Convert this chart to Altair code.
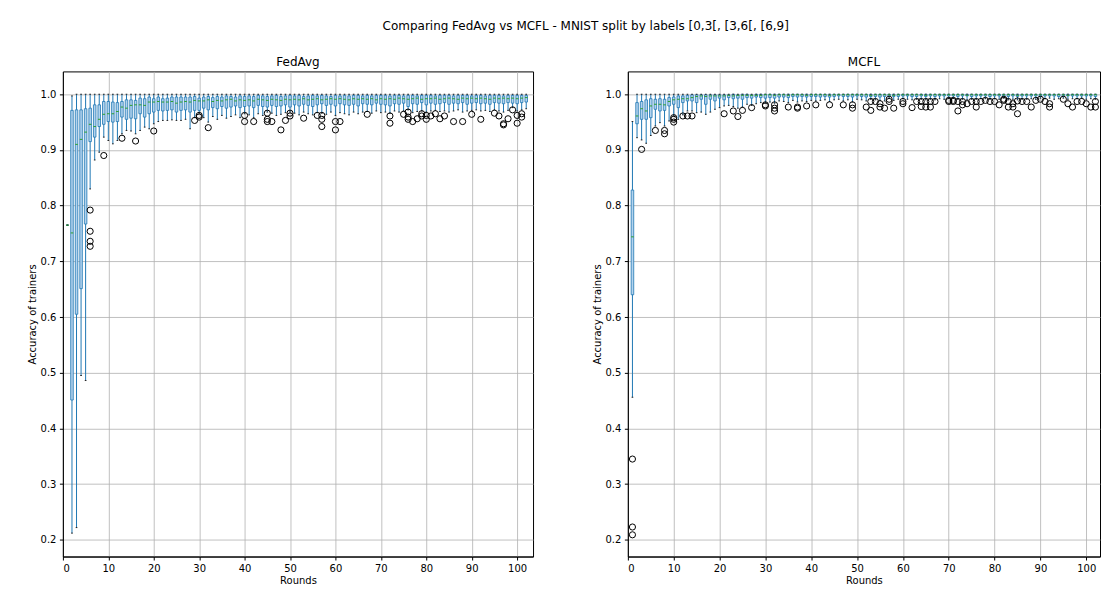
import altair as alt
import pandas as pd

TITLE = "Comparing FedAvg vs MCFL - MNIST split by labels [0,3[, [3,6[, [6,9]"
rounds = list(range(1, 103))

# ---------------- FedAvg box statistics ----------------
fed_lo = [0.765, 0.212, 0.222, 0.495, 0.486, 0.830, 0.882, 0.896, 0.923, 0.917,
          0.911, 0.917, 0.929, 0.935, 0.934, 0.929, 0.935, 0.941, 0.938, 0.947,
          0.951, 0.953, 0.953, 0.954, 0.953, 0.953, 0.955, 0.938, 0.958, 0.966,
          0.958, 0.950, 0.960, 0.955, 0.962, 0.957, 0.960, 0.963, 0.958, 0.965,
          0.963, 0.958, 0.965, 0.962, 0.968, 0.966, 0.962, 0.964, 0.967, 0.968,
          0.966, 0.963, 0.968, 0.965, 0.963, 0.967, 0.966, 0.964, 0.968, 0.962,
          0.967, 0.965, 0.963, 0.968, 0.965, 0.968, 0.969, 0.966, 0.970, 0.967,
          0.968, 0.966, 0.970, 0.968, 0.970, 0.972, 0.967, 0.969, 0.970, 0.968,
          0.970, 0.971, 0.969, 0.970, 0.968, 0.970, 0.972, 0.968, 0.970, 0.971,
          0.972, 0.970, 0.971, 0.969, 0.972, 0.970, 0.968, 0.971, 0.976, 0.970,
          0.972, 0.974]
fed_q1 = [0.765, 0.451, 0.605, 0.651, 0.767, 0.915, 0.923, 0.942, 0.946, 0.951,
          0.950, 0.951, 0.959, 0.955, 0.957, 0.956, 0.965, 0.959, 0.965, 0.968,
          0.971, 0.970, 0.971, 0.972, 0.968, 0.971, 0.972, 0.968, 0.971, 0.971,
          0.975, 0.972, 0.976, 0.974, 0.978, 0.975, 0.977, 0.979, 0.976, 0.978,
          0.979, 0.976, 0.980, 0.978, 0.977, 0.980, 0.978, 0.979, 0.981, 0.977,
          0.981, 0.979, 0.982, 0.980, 0.978, 0.981, 0.983, 0.980, 0.982, 0.979,
          0.983, 0.981, 0.980, 0.982, 0.979, 0.983, 0.982, 0.981, 0.984, 0.982,
          0.981, 0.979, 0.983, 0.982, 0.984, 0.978, 0.983, 0.982, 0.985, 0.981,
          0.984, 0.982, 0.983, 0.985, 0.982, 0.984, 0.983, 0.985, 0.982, 0.984,
          0.985, 0.983, 0.984, 0.982, 0.985, 0.984, 0.983, 0.985, 0.984, 0.983,
          0.985, 0.986]
fed_med = [0.765, 0.751, 0.910, 0.919, 0.932, 0.946, 0.942, 0.955, 0.964, 0.965,
           0.965, 0.969, 0.977, 0.975, 0.980, 0.981, 0.981, 0.980, 0.986, 0.986,
           0.987, 0.986, 0.986, 0.987, 0.984, 0.986, 0.987, 0.986, 0.989, 0.988,
           0.988, 0.990, 0.987, 0.989, 0.988, 0.990, 0.991, 0.988, 0.990, 0.989,
           0.990, 0.988, 0.991, 0.990, 0.989, 0.991, 0.990, 0.989, 0.991, 0.990,
           0.991, 0.990, 0.992, 0.990, 0.991, 0.992, 0.990, 0.991, 0.992, 0.991,
           0.992, 0.991, 0.990, 0.992, 0.991, 0.992, 0.991, 0.992, 0.990, 0.992,
           0.991, 0.992, 0.991, 0.993, 0.992, 0.991, 0.992, 0.993, 0.991, 0.992,
           0.992, 0.993, 0.991, 0.992, 0.993, 0.992, 0.991, 0.993, 0.992, 0.993,
           0.992, 0.993, 0.992, 0.991, 0.993, 0.992, 0.993, 0.992, 0.993, 0.992,
           0.993, 0.994]
fed_q3 = [0.765, 0.971, 0.972, 0.972, 0.974, 0.975, 0.981, 0.981, 0.987, 0.987,
          0.986, 0.985, 0.987, 0.990, 0.990, 0.989, 0.993, 0.992, 0.995, 0.992,
          0.995, 0.992, 0.993, 0.995, 0.995, 0.995, 0.995, 0.995, 0.996, 0.993,
          0.995, 0.996, 0.994, 0.996, 0.995, 0.997, 0.996, 0.995, 0.997, 0.996,
          0.997, 0.996, 0.998, 0.997, 0.996, 0.997, 0.998, 0.996, 0.997, 0.998,
          0.997, 0.998, 0.996, 0.997, 0.998, 0.997, 0.998, 0.997, 0.996, 0.998,
          0.997, 0.998, 0.997, 0.998, 0.998, 0.997, 0.998, 0.997, 0.998, 0.998,
          0.998, 0.997, 0.998, 0.998, 0.997, 0.998, 0.998, 0.997, 0.998, 0.998,
          0.998, 0.997, 0.998, 0.998, 0.998, 0.997, 0.998, 0.998, 0.998, 0.997,
          0.998, 0.998, 0.997, 0.998, 0.998, 0.998, 0.997, 0.998, 0.998, 0.998,
          0.998, 0.998]
fed_hi = [0.765, 0.997] + [1.0] * 100

fed_out_round = [6, 6, 6, 6, 9, 13, 16, 20, 29, 30, 30, 32, 40, 40, 42, 45, 45, 45, 46, 48,
                 49, 50, 50, 53, 56, 57, 57, 57, 60, 60, 61, 67, 72, 72, 75, 76, 76, 76, 77, 78,
                 79, 79, 80, 80, 81, 82, 83, 84, 86, 88, 90, 92, 95, 96, 97, 97, 98, 99, 100, 100,
                 101, 101]
fed_out_val = [0.792, 0.754, 0.736, 0.727, 0.890, 0.921, 0.916, 0.934, 0.953, 0.962, 0.959, 0.940,
               0.962, 0.951, 0.951, 0.966, 0.955, 0.951, 0.951, 0.936, 0.953, 0.966, 0.961, 0.957,
               0.962, 0.962, 0.955, 0.942, 0.951, 0.936, 0.951, 0.964, 0.961, 0.948, 0.964, 0.968,
               0.959, 0.955, 0.951, 0.956, 0.965, 0.961, 0.962, 0.955, 0.961, 0.965, 0.956, 0.961,
               0.951, 0.951, 0.964, 0.955, 0.966, 0.961, 0.947, 0.945, 0.956, 0.972, 0.962, 0.948,
               0.965, 0.959]

# ---------------- MCFL box statistics ----------------
mc_lo = [0.456, 0.922, 0.918, 0.912, 0.926, 0.943, 0.949, 0.943, 0.952, 0.961,
         0.955, 0.963, 0.970, 0.970, 0.967, 0.968, 0.964, 0.968, 0.973, 0.976,
         0.979, 0.980, 0.978, 0.975, 0.977, 0.982, 0.980, 0.983, 0.985, 0.984,
         0.986, 0.984, 0.988, 0.987, 0.985, 0.989, 0.986, 0.988, 0.987, 0.989,
         0.988, 0.989, 0.990, 0.987, 0.990, 0.991, 0.988, 0.990, 0.986, 0.991,
         0.990, 0.988, 0.991, 0.990, 0.989, 0.988, 0.993, 0.989, 0.991, 0.992,
         0.991, 0.990, 0.991, 0.991, 0.990, 0.991, 0.990, 0.992, 0.991, 0.993,
         0.993, 0.991, 0.991, 0.990, 0.991, 0.991, 0.992, 0.992, 0.991, 0.992,
         0.991, 0.993, 0.990, 0.991, 0.990, 0.991, 0.991, 0.992, 0.991, 0.993,
         0.992, 0.993, 0.991, 0.992, 0.993, 0.991, 0.992, 0.992, 0.993, 0.991,
         0.992, 0.991]
mc_q1 = [0.640, 0.947, 0.955, 0.955, 0.958, 0.973, 0.970, 0.971, 0.979, 0.982,
         0.976, 0.985, 0.988, 0.988, 0.985, 0.991, 0.982, 0.991, 0.988, 0.993,
         0.990, 0.994, 0.992, 0.993, 0.991, 0.994, 0.993, 0.995, 0.994, 0.993,
         0.994, 0.993, 0.995, 0.995, 0.994, 0.996, 0.995, 0.996, 0.995, 0.996,
         0.996, 0.995, 0.996, 0.995, 0.996, 0.997, 0.996, 0.996, 0.995, 0.997,
         0.996, 0.995, 0.996, 0.996, 0.995, 0.996, 0.997, 0.996, 0.996, 0.997,
         0.997, 0.996, 0.996, 0.997, 0.996, 0.997, 0.996, 0.997, 0.997, 0.997,
         0.997, 0.996, 0.997, 0.997, 0.996, 0.997, 0.997, 0.997, 0.996, 0.997,
         0.997, 0.997, 0.996, 0.997, 0.996, 0.997, 0.997, 0.997, 0.997, 0.997,
         0.997, 0.997, 0.997, 0.996, 0.997, 0.997, 0.997, 0.997, 0.997, 0.997,
         0.997, 0.996]
mc_med = [0.744, 0.961, 0.974, 0.970, 0.979, 0.982, 0.982, 0.981, 0.987, 0.990,
          0.991, 0.992, 0.992, 0.994, 0.996, 0.997, 0.996, 0.997, 0.997, 0.997,
          0.997, 0.998, 0.997, 0.998, 0.998, 0.998, 0.998, 0.998, 0.998, 0.999,
          0.999, 0.998, 0.999, 0.999, 0.998, 0.999, 0.999, 0.999, 0.998, 0.999,
          0.999, 0.999, 0.999, 0.998, 0.999, 0.999, 0.999, 0.999, 0.999, 0.999,
          0.999, 0.999, 0.998, 0.999, 0.999, 0.999, 0.999, 0.998, 0.999, 0.999,
          0.999, 0.999, 0.999, 0.999, 0.998, 0.999, 0.999, 0.999, 0.999, 0.999,
          0.999, 0.999, 0.999, 0.998, 0.999, 0.999, 0.999, 0.999, 0.999, 0.999,
          0.999, 0.999, 0.999, 0.999, 0.998, 0.999, 0.999, 0.999, 0.999, 0.999,
          0.999, 0.999, 0.999, 0.999, 0.999, 0.998, 0.999, 0.999, 0.999, 0.999,
          0.999, 0.999]
mc_q3 = ([0.828, 0.985, 0.987, 0.990, 0.992, 0.991, 0.992, 0.991, 0.994, 0.995,
          0.997, 0.997, 0.998, 0.999, 0.999, 0.999, 0.999, 0.999, 0.999, 0.999,
          0.999, 0.999, 1.0, 0.999, 1.0, 1.0, 0.999, 1.0, 1.0, 1.0] + [1.0] * 72)
mc_hi = [0.951] + [1.0] * 101

mc_out_round = [1, 1, 1, 3, 6, 8, 8, 10, 10, 10, 12, 13, 14, 21, 23, 24, 25, 27, 30, 30,
                32, 32, 32, 35, 37, 37, 39, 41, 44, 47, 49, 49, 52, 53, 53, 54, 55, 55, 56, 57,
                57, 58, 60, 60, 62, 63, 64, 64, 65, 65, 66, 66, 67, 70, 70, 71, 71, 72, 72, 73,
                73, 74, 75, 76, 76, 77, 78, 79, 80, 81, 82, 82, 83, 83, 84, 84, 85, 85, 86, 87,
                88, 89, 90, 91, 92, 92, 95, 96, 97, 98, 99, 100, 101, 102, 102]
mc_out_val = [0.345, 0.223, 0.209, 0.901, 0.935, 0.935, 0.929, 0.958, 0.955, 0.950,
              0.961, 0.961, 0.961, 0.965, 0.970, 0.960, 0.971, 0.976, 0.979, 0.981,
              0.981, 0.975, 0.970, 0.977, 0.977, 0.975, 0.979, 0.981, 0.981, 0.981,
              0.981, 0.975, 0.977, 0.971, 0.987, 0.987, 0.983, 0.977, 0.975, 0.991,
              0.987, 0.975, 0.983, 0.987, 0.976, 0.987, 0.987, 0.978, 0.987, 0.977,
              0.987, 0.977, 0.987, 0.987, 0.989, 0.989, 0.987, 0.987, 0.970, 0.987,
              0.981, 0.983, 0.987, 0.987, 0.977, 0.987, 0.989, 0.987, 0.987, 0.981,
              0.991, 0.989, 0.987, 0.977, 0.983, 0.977, 0.965, 0.988, 0.987, 0.987,
              0.977, 0.989, 0.991, 0.987, 0.977, 0.983, 0.991, 0.983, 0.977, 0.987,
              0.987, 0.983, 0.977, 0.987, 0.977]

Y_TICKS = [0.2, 0.3, 0.4, 0.5, 0.6, 0.7, 0.8, 0.9, 1.0]
X_TICKS = [0, 10, 20, 30, 40, 50, 60, 70, 80, 90, 100]

BLUE = "#1f77b4"
LIGHT = "#b3d3ee"
GREEN = "#2ca02c"
FONT = "DejaVu Sans"


def panel(name, lo, q1, med, q3, hi, out_r, out_v, xmax, width):
    box = pd.DataFrame({"round": rounds, "lo": lo, "q1": q1, "med": med, "q3": q3, "hi": hi})
    outs = pd.DataFrame({"round": out_r, "value": out_v})
    xs = alt.Scale(domain=[0, xmax], nice=False, zero=False)
    ys = alt.Scale(domain=[0.17, 1.041], nice=False, zero=False)
    xax = alt.Axis(values=X_TICKS, format="d", grid=True)
    yax = alt.Axis(values=Y_TICKS, format=".1f", grid=True)
    base = alt.Chart(box).transform_calculate(
        xl="datum.round - 0.28", xr="datum.round + 0.28",
        cl="datum.round - 0.18", cr="datum.round + 0.18")
    whisk = base.mark_rule(color=BLUE, strokeWidth=1).encode(
        x=alt.X("round:Q", scale=xs, axis=xax, title="Rounds"),
        y=alt.Y("lo:Q", scale=ys, axis=yax, title="Accuracy of trainers"),
        y2="hi:Q")
    boxes = base.mark_bar(fill=LIGHT, stroke=BLUE, strokeWidth=0.8).encode(
        x=alt.X("xl:Q", title="Rounds"), x2="xr:Q",
        y=alt.Y("q1:Q", title="Accuracy of trainers"), y2="q3:Q")
    cap_lo = base.mark_rule(color="#222222", strokeWidth=1).encode(
        x=alt.X("cl:Q", title="Rounds"), x2="cr:Q",
        y=alt.Y("lo:Q", title="Accuracy of trainers"))
    cap_hi = base.mark_rule(color="#222222", strokeWidth=1).encode(
        x=alt.X("cl:Q", title="Rounds"), x2="cr:Q",
        y=alt.Y("hi:Q", title="Accuracy of trainers"))
    medians = base.mark_rule(color=GREEN, strokeWidth=1).encode(
        x=alt.X("xl:Q", title="Rounds"), x2="xr:Q",
        y=alt.Y("med:Q", title="Accuracy of trainers"))
    fliers = alt.Chart(outs).mark_point(
        shape="circle", filled=False, color="black", size=38, strokeWidth=1, opacity=1).encode(
        x=alt.X("round:Q", title="Rounds"),
        y=alt.Y("value:Q", title="Accuracy of trainers"))
    return alt.layer(whisk, boxes, cap_lo, cap_hi, medians, fliers).properties(
        width=width, height=486,
        title=alt.TitleParams(name, frame="group", anchor="middle", offset=2,
                              fontSize=12, font=FONT, fontWeight="normal", color="black"))


left = panel("FedAvg", fed_lo, fed_q1, fed_med, fed_q3, fed_hi,
             fed_out_round, fed_out_val, 103.5, 471)
right = panel("MCFL", mc_lo, mc_q1, mc_med, mc_q3, mc_hi,
              mc_out_round, mc_out_val, 103, 473)

chart = alt.hconcat(left, right, spacing=57).properties(
    title=alt.TitleParams(TITLE, anchor="middle", dx=22, offset=23, fontSize=12,
                          font=FONT, fontWeight="normal", color="black"),
    padding={"left": 18, "top": 11, "right": 0, "bottom": 0},
).configure_axis(
    labelFont=FONT, labelFontSize=10, labelColor="black",
    titleFont=FONT, titleFontSize=10, titleFontWeight="normal", titleColor="black",
    domainColor="black", tickColor="black", tickSize=3.5, labelPadding=3.5,
    gridColor="#b0b0b0", gridWidth=0.8, titlePadding=3,
).configure_axisX(titlePadding=2).configure_view(
    stroke="black", strokeWidth=1
)

chart.save("out.html", embed_options={"renderer": "svg", "actions": False})
